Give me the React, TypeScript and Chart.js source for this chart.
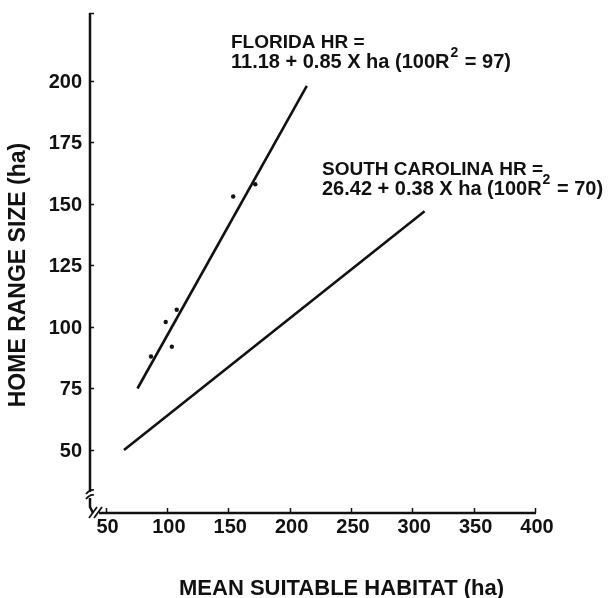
import React, { useEffect, useRef } from "react";
import { Chart, registerables } from "chart.js";

Chart.register(...registerables);

// ---- data ----
const floridaPointsX = [87, 99, 104, 108, 154, 172];
const floridaPointsY = [88, 102, 92, 107, 153, 158];
const floridaLineX = [76, 214];
const floridaLineY = [75, 198];
const carolinaLineX = [65, 310];
const carolinaLineY = [50, 147];

const xTicks = [50, 100, 150, 200, 250, 300, 350, 400];
const yTicks = [50, 75, 100, 125, 150, 175, 200];

const X_MIN = 37.3;
const X_MAX = 400;
const Y_MIN = 24.4;
const Y_MAX = 227.6;

const xTitle = "MEAN SUITABLE HABITAT (ha)";
const yTitle = "HOME RANGE SIZE (ha)";
const floridaLabel1 = "FLORIDA HR =";
const floridaLabel2 = "11.18 + 0.85 X ha (100R";
const floridaLabel3 = " = 97)";
const carolinaLabel1 = "SOUTH CAROLINA HR =";
const carolinaLabel2 = "26.42 + 0.38 X ha (100R";
const carolinaLabel3 = " = 70)";

const INK = "#111111";
const FONT = '"Liberation Sans", Arial, Helvetica, sans-serif';

const toPts = (xs: number[], ys: number[]) => xs.map((x, i) => ({ x, y: ys[i] }));

const decorPlugin = {
  id: "decor",
  afterDraw(chart: any) {
    const ctx = chart.ctx as CanvasRenderingContext2D;
    const xs = chart.scales.x;
    const ys = chart.scales.y;
    const axX = xs.getPixelForValue(X_MIN);
    const yb = ys.getPixelForValue(Y_MIN);
    const yt = ys.getPixelForValue(Y_MAX);
    const xr = xs.getPixelForValue(X_MAX);

    ctx.save();
    ctx.strokeStyle = INK;
    ctx.fillStyle = INK;
    ctx.lineWidth = 2.5;
    ctx.lineCap = "butt";

    // y axis upper part
    ctx.beginPath();
    ctx.moveTo(axX, yt);
    ctx.lineTo(axX, yb - 21);
    ctx.stroke();
    // small cap at top
    ctx.beginPath();
    ctx.lineWidth = 1.5;
    ctx.moveTo(axX - 0.5, yt + 0.5);
    ctx.lineTo(axX + 4, yt + 0.5);
    ctx.stroke();

    // y axis break marks
    ctx.lineWidth = 1.8;
    ctx.beginPath();
    ctx.moveTo(axX - 4, yb - 19);
    ctx.quadraticCurveTo(axX, yb - 24, axX + 4, yb - 23);
    ctx.moveTo(axX - 4, yb - 14);
    ctx.quadraticCurveTo(axX, yb - 19, axX + 4, yb - 18);
    ctx.stroke();

    // y axis lower part (hook to x axis)
    ctx.lineWidth = 2.5;
    ctx.beginPath();
    ctx.moveTo(axX, yb - 15);
    ctx.lineTo(axX, yb - 6);
    ctx.lineTo(axX + 3, yb);
    ctx.stroke();

    // x axis break marks
    ctx.lineWidth = 1.8;
    ctx.beginPath();
    ctx.moveTo(axX - 1, yb + 5);
    ctx.lineTo(axX + 7, yb - 6);
    ctx.moveTo(axX + 4, yb + 5);
    ctx.lineTo(axX + 12, yb - 6);
    ctx.stroke();

    // x axis main
    ctx.lineWidth = 2.5;
    ctx.beginPath();
    ctx.moveTo(axX + 9, yb);
    ctx.lineTo(xr + 1, yb);
    ctx.stroke();

    // ticks (inward)
    ctx.lineWidth = 1.5;
    ctx.beginPath();
    for (const v of yTicks) {
      const y = Math.round(ys.getPixelForValue(v)) + 0.5;
      ctx.moveTo(axX, y);
      ctx.lineTo(axX + 4, y);
    }
    for (const v of xTicks) {
      const x = Math.round(xs.getPixelForValue(v)) + 0.5;
      ctx.moveTo(x, yb);
      ctx.lineTo(x, yb - 5);
    }
    ctx.stroke();

    // tick labels
    ctx.font = `bold 20px ${FONT}`;
    ctx.textAlign = "right";
    ctx.textBaseline = "alphabetic";
    for (const v of yTicks) {
      const y = ys.getPixelForValue(v);
      ctx.fillText(String(v), axX - 8, y + 7);
    }
    ctx.textAlign = "center";
    for (const v of xTicks) {
      const x = xs.getPixelForValue(v);
      ctx.fillText(String(v), x + 2, yb + 20);
    }

    // axis titles
    ctx.font = `bold 22px ${FONT}`;
    ctx.textAlign = "left";
    ctx.fillText(xTitle, 179, 595);

    ctx.save();
    ctx.translate(25, 275);
    ctx.rotate(-Math.PI / 2);
    ctx.font = `bold 23px ${FONT}`;
    ctx.textAlign = "center";
    ctx.fillText(yTitle, 0, 0);
    ctx.restore();

    // annotations
    const drawEq = (x: number, y1: number, l1: string, l2: string, l3: string) => {
      ctx.textAlign = "left";
      ctx.font = `bold 19px ${FONT}`;
      ctx.fillText(l1, x, y1);
      const y2 = y1 + 20;
      ctx.font = `bold 20px ${FONT}`;
      ctx.fillText(l2, x, y2);
      let cx = x + ctx.measureText(l2).width + 1;
      ctx.font = `bold 14px ${FONT}`;
      ctx.fillText("2", cx, y2 - 11);
      cx += ctx.measureText("2").width + 1;
      ctx.font = `bold 20px ${FONT}`;
      ctx.fillText(l3, cx, y2);
    };
    drawEq(231, 48, floridaLabel1, floridaLabel2, floridaLabel3);
    drawEq(322, 175, carolinaLabel1, carolinaLabel2, carolinaLabel3);

    ctx.restore();
  },
};

export default function App() {
  const canvasRef = useRef<HTMLCanvasElement | null>(null);

  useEffect(() => {
    if (!canvasRef.current) return;
    const chart = new Chart(canvasRef.current, {
      type: "scatter",
      data: {
        datasets: [
          {
            label: "Florida fit",
            data: toPts(floridaLineX, floridaLineY),
            showLine: true,
            borderColor: INK,
            borderWidth: 2.6,
            pointRadius: 0,
            fill: false,
          },
          {
            label: "South Carolina fit",
            data: toPts(carolinaLineX, carolinaLineY),
            showLine: true,
            borderColor: INK,
            borderWidth: 2.6,
            pointRadius: 0,
            fill: false,
          },
          {
            label: "Florida",
            data: toPts(floridaPointsX, floridaPointsY),
            showLine: false,
            pointRadius: 2.2,
            pointBackgroundColor: INK,
            pointBorderColor: INK,
            pointBorderWidth: 0,
          },
        ],
      },
      options: {
        animation: false,
        responsive: false,
        devicePixelRatio: 1,
        layout: { padding: { left: 90, right: 76, top: 13, bottom: 85 } },
        plugins: {
          legend: { display: false },
          tooltip: { enabled: false },
        },
        scales: {
          x: {
            type: "linear",
            display: false,
            min: X_MIN,
            max: X_MAX,
          },
          y: {
            type: "linear",
            display: false,
            min: Y_MIN,
            max: Y_MAX,
          },
        },
      },
      plugins: [decorPlugin],
    });
    return () => chart.destroy();
  }, []);

  return (
    <div style={{ position: "absolute", left: 0, top: 0, width: 611, height: 598, background: "#fff" }}>
      <canvas ref={canvasRef} width={611} height={598} />
    </div>
  );
}
